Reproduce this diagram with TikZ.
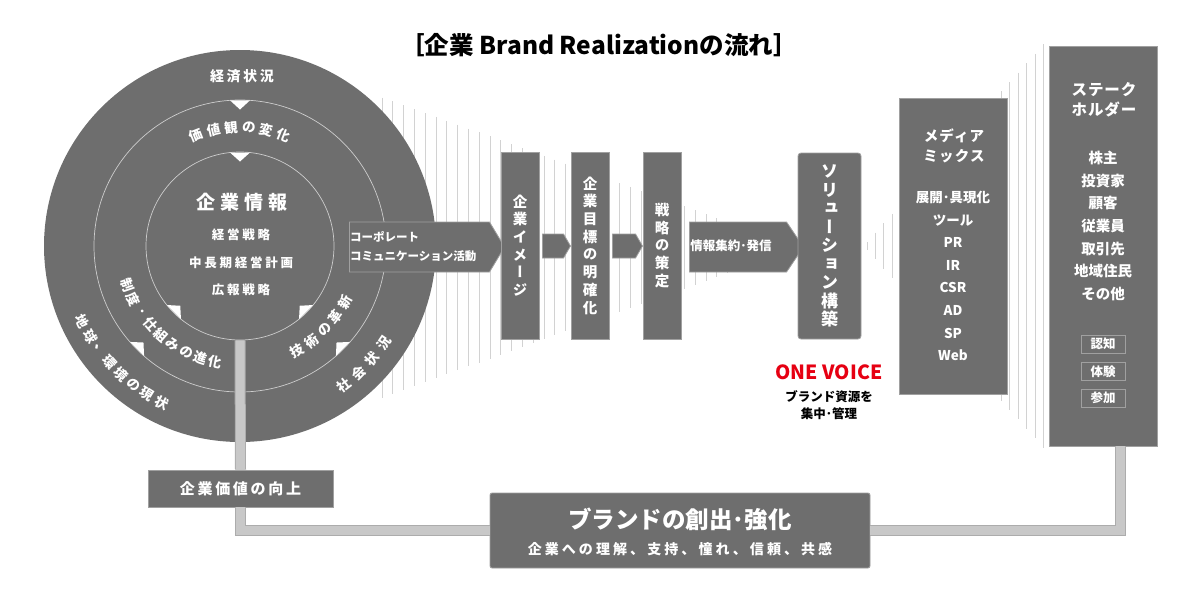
\documentclass[tikz,border=0pt]{standalone}
\usepackage{fontspec}
\newfontfamily\jp{Noto Sans CJK JP}
\newfontfamily\jpv{Noto Sans CJK JP}[RawFeature=+vert]
\usetikzlibrary{shapes.symbols,calc}
\newcommand{\fsz}[2]{\fontsize{#1}{#2}\selectfont}
\newcommand{\jb}{\jp\bfseries}
\newcommand{\spaced}[1]{\addfontfeatures{LetterSpace=#1}}
\definecolor{panel}{RGB}{110,110,110}
\definecolor{edge}{RGB}{160,160,160}
\definecolor{ringline}{RGB}{205,205,205}
\definecolor{fan}{RGB}{210,210,210}
\definecolor{barfill}{RGB}{200,200,200}
\definecolor{baredge}{RGB}{172,172,172}
\definecolor{voicered}{RGB}{230,0,18}
\begin{document}
\begin{tikzpicture}[
    x=1pt, y=-1pt,
    every node/.style={inner sep=0pt, text=white, font=\jb},
    panel/.style={fill=panel, draw=edge, line width=0.8pt},
    stepbox/.style={panel, minimum width=38pt, minimum height=187pt, align=center, font=\jpv\bfseries\fsz{14.5}{17.7}},
    flowarrow/.style={signal, signal to=east, signal from=nowhere, fill=panel, draw=edge, line width=0.8pt},
    ring/.style={circle, draw=ringline, line width=0.7pt},
    fanline/.style={draw=fan, line width=0.9pt},
    arclbl/.style={font=\jb\fsz{13.5}{13.5}},
    tagbox/.style={draw=edge, line width=0.8pt, minimum width=44pt, minimum height=18pt, font=\jb\fsz{12.5}{12.5}},
    bar/.style={draw=baredge, double=barfill, double distance=9pt, line width=1pt},
]
\useasboundingbox (0,0) rectangle (1200,600);

% Fans of thin lines behind the flow
\foreach \k in {0,...,38} {
  \pgfmathsetmacro\xx{382+10.8*\k}
  \pgfmathsetmacro\hh{150-0.36*(\xx-382)}
  \draw[fanline] (\xx,{247.5-\hh}) -- (\xx,{247.5+\hh});
}
\foreach \k in {0,...,21} {
  \pgfmathsetmacro\xx{867+8.4*\k}
  \pgfmathsetmacro\hh{4+1.12*(\xx-867)}
  \draw[fanline] (\xx,{246-\hh}) -- (\xx,{246+\hh});
}

% Title
\node[text=black, font=\jb\fsz{24.5}{24.5}] (title) at (599,45) {［企業 Brand Realizationの流れ］};

% Circle: corporate information
\node[circle, fill=panel, minimum size=392pt] (outer) at (240,246) {};
\node[ring, minimum size=292pt] (mid) at (240,246) {};
\node[ring, minimum size=188pt] (core) at (240,246) {};

\begin{scope}[shift={(240,246)}, yscale=-1]
  % notches pointing inward
  \foreach \t/\r in {90/146, 90/94, 225/146, 225/94, 315/146, 315/94}
    \fill[white] ({\t+573/\r}:\r) -- ({\t-573/\r}:\r) -- (\t:{\r-9.5}) -- cycle;
  % curved ring labels
  \foreach \c [count=\i] in {価,値,観,の,変,化}
    \node[arclbl, rotate={21.5-8.6*(\i-1)}] at ({111.5-8.6*(\i-1)}:119) {\c};
  \foreach \c [count=\i] in {制,度,･,仕,組,み,の,進,化}
    \node[arclbl, rotate={289+7.375*(\i-1)}] at ({199+7.375*(\i-1)}:119) {\c};
  \foreach \c [count=\i] in {技,術,の,革,新}
    \node[arclbl, rotate={388.5+8.375*(\i-1)}] at ({298.5+8.375*(\i-1)}:119) {\c};
  \foreach \c [count=\i] in {地,球,、,環,境,の,現,状}
    \node[arclbl, rotate={295.6+5.4*(\i-1)}] at ({205.6+5.4*(\i-1)}:175) {\c};
  \foreach \c [count=\i] in {社,会,状,況}
    \node[arclbl, rotate={396.7+6.43*(\i-1)}] at ({306.7+6.43*(\i-1)}:174) {\c};
\end{scope}

\node[font=\jb\fsz{14}{14}\spaced{18}] (economy) at (242,76) {経済状況};
\node[font=\jb\fsz{19}{19}\spaced{26}] (corename) at (242,202) {企業情報};
\node[font=\jb\fsz{12.5}{12.5}\spaced{22}] (plan1) at (241,235) {経営戦略};
\node[font=\jb\fsz{12.5}{12.5}\spaced{22}] (plan2) at (241,263) {中長期経営計画};
\node[font=\jb\fsz{12.5}{12.5}\spaced{22}] (plan3) at (241,290) {広報戦略};

% Corporate communication arrow
\node[flowarrow, minimum width=155pt, minimum height=50pt, signal pointer angle=118] (corp) at (419.5,247) {};
\node[anchor=west, align=left, font=\jb\fsz{11.5}{19}] (corptext) at (350,246.5) {コーポレート\\コミュニケーション活動};

% Steps
\node[stepbox] (image) at (520,245.5) {企\\業\\イ\\メ\\ー\\ジ};
\node[flowarrow, minimum width=28pt, minimum height=24pt, signal pointer angle=120] (step1) at (553,246) {};
\node[stepbox] (goal) at (590,245.5) {企\\業\\目\\標\\の\\明\\確\\化};
\node[flowarrow, minimum width=30pt, minimum height=24pt, signal pointer angle=120] (step2) at (624,246) {};
\node[stepbox] (strategy) at (662,245.5) {戦\\略\\の\\策\\定};
\node[flowarrow, minimum width=114pt, minimum height=50pt, signal pointer angle=112] (info) at (738,247) {};
\node[font=\jb\fsz{12.5}{12.5}] (infotext) at (731,246) {情報集約･発信};
\node[panel, rounded corners=3pt, minimum width=63pt, minimum height=186pt, align=center,
      font=\jpv\bfseries\fsz{17}{18.5}] (solution) at (829.5,246) {ソ\\リ\\ュ\\ー\\シ\\ョ\\ン\\構\\築};

% One voice
\node[text=voicered, font=\jb\fsz{19.5}{19.5}] (voice) at (829,372) {ONE VOICE};
\node[text=black, align=center, font=\jb\fsz{12.5}{17}] (resource) at (829,405.5) {ブランド資源を\\集中･管理};

% Media mix
\node[panel, minimum width=108pt, minimum height=296pt] (media) at (953,246) {};
\node[align=center, font=\jb\fsz{14.5}{20}\spaced{8}] (mediahead) at (954,146) {メディア\\ミックス};
\node[align=center, font=\jb\fsz{13.5}{22.6}] (medialist) at (953,276) {展開･具現化\\ツール\\PR\\IR\\CSR\\AD\\SP\\Web};

% Stakeholders
\node[panel, minimum width=108pt, minimum height=400pt] (stake) at (1103,246) {};
\node[align=center, font=\jb\fsz{15.5}{20}\spaced{6}] (stakehead) at (1104,100) {ステーク\\ホルダー};
\node[align=center, font=\jb\fsz{14.5}{22.67}] (stakelist) at (1103,226) {株主\\投資家\\顧客\\従業員\\取引先\\地域住民\\その他};
\node[tagbox] (aware) at (1103,344) {認知};
\node[tagbox] (exp) at (1103,371.5) {体験};
\node[tagbox] (join) at (1103,398) {参加};

% Results
\node[panel, minimum width=185pt, minimum height=37pt, font=\jb\fsz{15}{15}\spaced{18}] (value) at (240.5,488.5) {企業価値の向上};
\node[panel, rounded corners=2pt, minimum width=380pt, minimum height=75pt] (brand) at (680,530.5) {};
\node[font=\jb\fsz{23.5}{23.5}] (brandhead) at (680,519) {ブランドの創出･強化};
\node[font=\jb\fsz{14}{14}\spaced{22}] (brandsub) at (680,549) {企業への理解、支持、憧れ、信頼、共感};

% Feedback bars
\draw[bar] (core.south) -- (value.north);
\draw[bar] (value.south) |- (brand.west);
\draw[bar] (brand.east) -| ($(stake.south)+(17,0)$);
\end{tikzpicture}
\end{document}
